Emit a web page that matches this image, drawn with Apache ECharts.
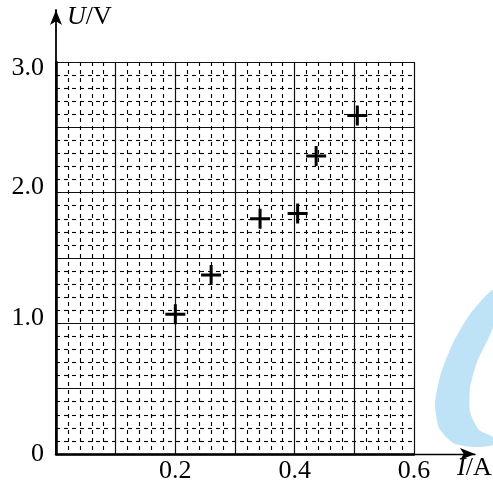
<!DOCTYPE html>
<html>
<head>
<meta charset="utf-8">
<script src="https://cdn.jsdelivr.net/npm/echarts@6/dist/echarts.min.js"></script>
<style>
  html, body { margin: 0; padding: 0; background: #fff; }
  #chart-container { width: 493px; height: 488px; }
</style>
</head>
<body>
<div id="chart-container"></div>
<script>
const currents = [0.20, 0.26, 0.342, 0.405, 0.436, 0.505];
const voltages = [1.07, 1.37, 1.80, 1.84, 2.28, 2.59];
const xTickLabels = ['0.2', '0.4', '0.6'];
const yTickLabels = ['0', '1.0', '2.0', '3.0'];

let dom = document.getElementById('chart-container');
let myChart = echarts.init(dom, null, { renderer: 'canvas' });

const serif = 'Liberation Serif';
const fs = 26;
const cross = 'path://M0,8.5H20V11.5H0Z M8.5,0H11.5V20H8.5Z';

// light blue watermark outline at the lower right
const markOutline = [
	[493, 290], [470, 314], [453, 343], [441, 373], [435, 403], [439, 428],
	[453, 443], [473, 447], [493, 445], [493, 437], [479, 430], [470, 412],
	[470, 388], [477, 362], [493, 327],
];

let option = {
	animation: false,
	grid: [
		{ left: 56, right: 79, top: 62, bottom: 34 },
		{ left: 56, right: 18, top: 10, bottom: 34 },
	],
	xAxis: [
		{
			type: 'value',
			gridIndex: 0,
			min: 0,
			max: 0.6,
			interval: 0.1,
			axisLine: { show: true, lineStyle: { color: '#000', width: 2.5 } },
			axisTick: { show: false },
			axisLabel: {
				margin: 4,
				color: '#000',
				fontFamily: serif,
				fontSize: fs,
				formatter: function (v) {
					const s = v.toFixed(1);
					return xTickLabels.indexOf(s) >= 0 ? s : '';
				},
			},
			splitLine: { show: true, lineStyle: { color: '#111', width: 1.2 } },
			minorTick: { show: false, splitNumber: 5 },
			minorSplitLine: { show: true, lineStyle: { color: '#000', width: 1.1, type: [4, 4] } },
		},
		{
			type: 'value',
			gridIndex: 1,
			min: 0,
			max: 1,
			axisLine: {
				show: true,
				symbol: ['none', 'arrow'],
				symbolSize: [9, 15],
				lineStyle: { color: '#000', width: 1.3 },
			},
			axisTick: { show: false },
			axisLabel: { show: false },
			splitLine: { show: false },
		},
	],
	yAxis: [
		{
			type: 'value',
			gridIndex: 0,
			min: 0,
			max: 3.0,
			interval: 0.5,
			axisLine: { show: true, lineStyle: { color: '#000', width: 2.5 } },
			axisTick: { show: false },
			axisLabel: {
				margin: 12,
				color: '#000',
				fontFamily: serif,
				fontSize: fs,
				formatter: function (v) {
					if (v === 0) return yTickLabels[0];
					if (v === 1) return '{lo|' + yTickLabels[1] + '}';
					if (v === 2) return '{lo|' + yTickLabels[2] + '}';
					if (v === 3) return '{hi|' + yTickLabels[3] + '}';
					return '';
				},
				rich: {
					lo: { fontFamily: serif, fontSize: fs, color: '#000', padding: [0, 0, 10, 0] },
					hi: { fontFamily: serif, fontSize: fs, color: '#000', padding: [12, 0, 0, 0] },
				},
			},
			splitLine: { show: true, lineStyle: { color: '#111', width: 1.2 } },
			minorTick: { show: false, splitNumber: 5 },
			minorSplitLine: { show: true, lineStyle: { color: '#000', width: 1.1, type: [4, 4] } },
		},
		{
			type: 'value',
			gridIndex: 1,
			min: 0,
			max: 1,
			axisLine: {
				show: true,
				symbol: ['none', 'arrow'],
				symbolSize: [9, 15],
				lineStyle: { color: '#000', width: 1.8 },
			},
			axisTick: { show: false },
			axisLabel: { show: false },
			splitLine: { show: false },
		},
	],
	graphic: [
		{
			type: 'polygon',
			silent: true,
			z: -1,
			shape: { points: markOutline, smooth: 0.2 },
			style: { fill: '#bfe3f6' },
		},
		{
			type: 'text',
			x: 67,
			y: 4,
			style: {
				text: '{i|U}/V',
				fill: '#000',
				font: fs + 'px "Liberation Serif"',
				rich: {
					i: { fontStyle: 'italic', fontFamily: serif, fontSize: fs, fill: '#000' },
				},
			},
		},
		{
			type: 'text',
			x: 457,
			y: 455,
			style: {
				text: '{i|I}/A',
				fill: '#000',
				font: fs + 'px "Liberation Serif"',
				rich: {
					i: { fontStyle: 'italic', fontFamily: serif, fontSize: fs, fill: '#000' },
				},
			},
		},
	],
	series: [
		{
			name: 'U-I',
			type: 'scatter',
			xAxisIndex: 0,
			yAxisIndex: 0,
			symbol: cross,
			symbolSize: [20, 20],
			itemStyle: { color: '#000', opacity: 1 },
			data: currents.map(function (c, i) {
				return [c, voltages[i]];
			}),
		},
	],
};

myChart.setOption(option);
window.addEventListener('resize', myChart.resize);
</script>
</body>
</html>
